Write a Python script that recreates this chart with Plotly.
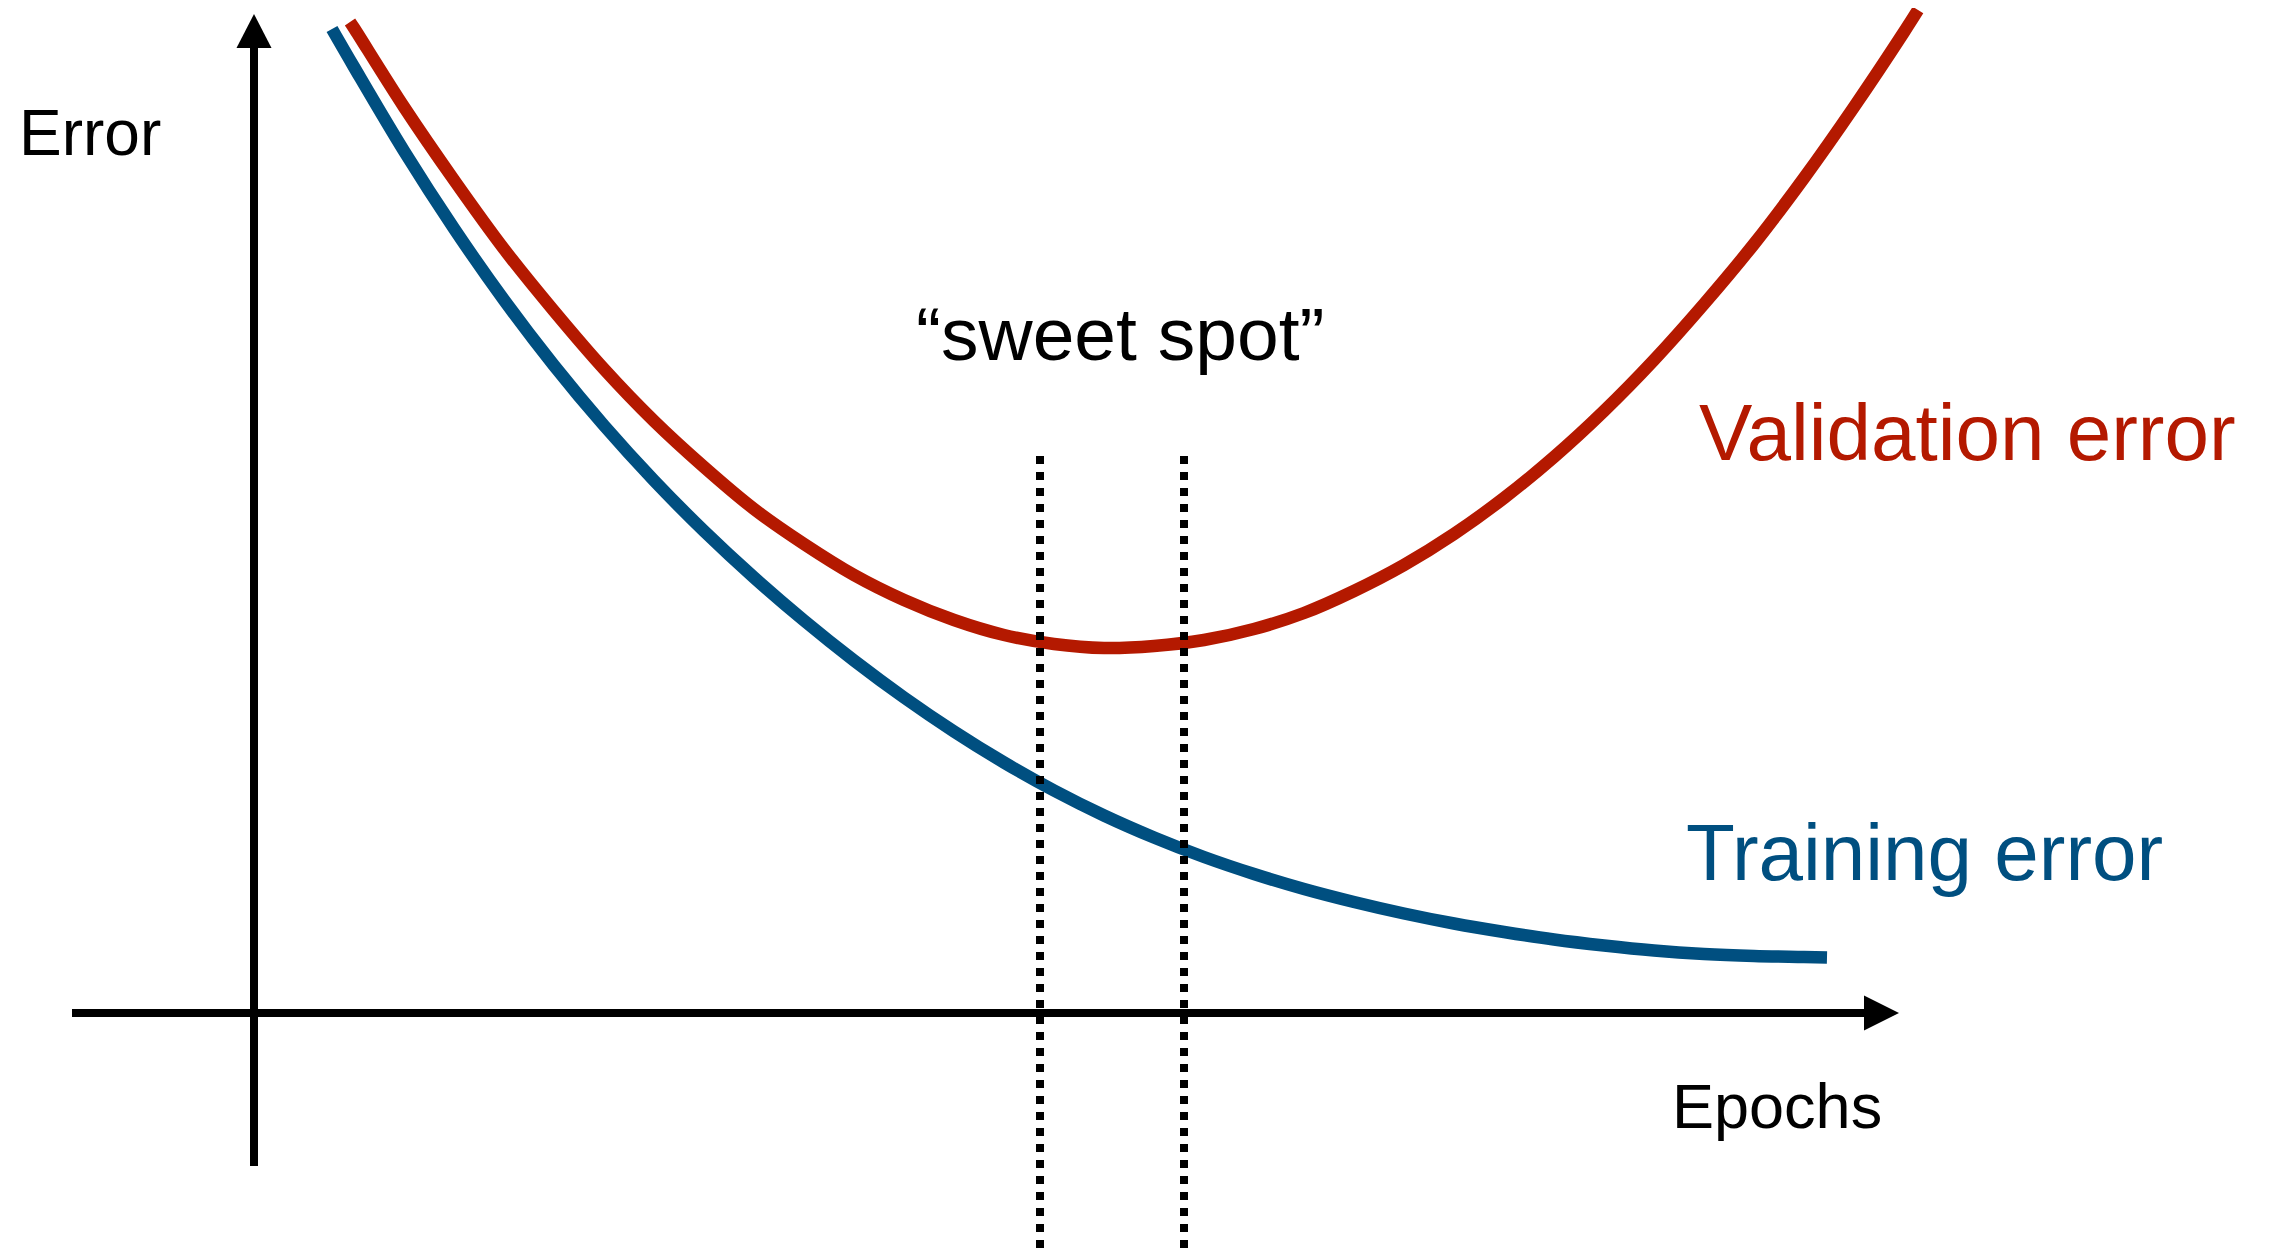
import plotly.graph_objects as go

# Curve samples. Units are arbitrary; (0, 0) is where the axes cross.
train_epochs = [0.78, 1.0, 1.5, 2.0, 2.5, 3.0, 3.5, 4.0, 4.5, 5.0, 5.5, 6.0, 6.5, 7.0, 7.5, 8.0,
                8.5, 9.0, 9.5, 10.0, 10.5, 11.0, 11.5, 12.0, 12.5, 13.0, 13.5, 14.0, 14.5, 15.0,
                15.5, 15.73]
train_error = [9.84, 9.46, 8.62, 7.845, 7.13, 6.475, 5.875, 5.325, 4.82, 4.355, 3.925, 3.525,
               3.155, 2.815, 2.505, 2.225, 1.975, 1.755, 1.56, 1.39, 1.24, 1.11, 0.995, 0.895,
               0.81, 0.735, 0.675, 0.625, 0.59, 0.57, 0.56, 0.555]

val_epochs = [0.96, 1.0, 1.5, 2.0, 2.5, 3.0, 3.5, 4.0, 4.5, 5.0, 5.5, 6.0, 6.5, 7.0, 7.5, 8.0,
              8.5, 9.0, 9.5, 10.0, 10.5, 11.0, 11.5, 12.0, 12.5, 13.0, 13.5, 14.0, 14.5, 15.0,
              15.5, 16.0, 16.5, 16.64]
val_error = [9.91, 9.85, 9.06, 8.33, 7.64, 7.02, 6.44, 5.92, 5.46, 5.04, 4.69, 4.38, 4.13, 3.93,
             3.78, 3.69, 3.65, 3.67, 3.73, 3.84, 4.00, 4.22, 4.48, 4.79, 5.15, 5.56, 6.02, 6.53,
             7.09, 7.69, 8.35, 9.06, 9.81, 10.03]

sweet_spot = [7.86, 9.30]

RED = "#B41900"
BLUE = "#004F80"
FONT = "Liberation Sans, Arial, Helvetica, sans-serif"

# the page body keeps an 8px margin, so the ranges are nudged to compensate
X_RANGE = [-2.46, 20.25]
Y_RANGE = [-2.43, 10.05]

fig = go.Figure()
fig.add_trace(go.Scatter(x=train_epochs, y=train_error, mode="lines",
                         line=dict(color=BLUE, width=12.5, shape="spline", smoothing=1),
                         hoverinfo="skip"))
fig.add_trace(go.Scatter(x=val_epochs, y=val_error, mode="lines",
                         line=dict(color=RED, width=12.5, shape="spline", smoothing=1),
                         hoverinfo="skip"))

shapes = []
# axes with filled arrow heads
shapes.append(dict(type="line", x0=-1.82, y0=0, x1=16.12, y1=0, line=dict(color="black", width=8)))
shapes.append(dict(type="line", x0=0, y0=-1.53, x1=0, y1=9.67, line=dict(color="black", width=8)))
shapes.append(dict(type="path", path="M 16.10,0.175 L 16.45,0 L 16.10,-0.175 Z",
                   fillcolor="black", line=dict(color="black", width=0)))
shapes.append(dict(type="path", path="M -0.175,9.65 L 0,9.99 L 0.175,9.65 Z",
                   fillcolor="black", line=dict(color="black", width=0)))
# sweet spot bounds
for xs in sweet_spot:
    shapes.append(dict(type="line", x0=xs, y0=5.57, x1=xs, y1=Y_RANGE[0], layer="above",
                       line=dict(color="black", width=8, dash="dot")))

annotations = [
    dict(x=-2.37, y=8.80, text="Error", xanchor="left", yanchor="middle",
         font=dict(size=64, color="black")),
    dict(x=14.16, y=-0.93, text="Epochs", xanchor="left", yanchor="middle",
         font=dict(size=63, color="black")),
    dict(x=8.66, y=6.79, text="\u201csweet spot\u201d", xanchor="center", yanchor="middle",
         font=dict(size=75, color="black")),
    dict(x=14.43, y=5.81, text="Validation error", xanchor="left", yanchor="middle",
         font=dict(size=80, color=RED)),
    dict(x=14.30, y=1.61, text="Training error", xanchor="left", yanchor="middle",
         font=dict(size=80, color=BLUE)),
]
for a in annotations:
    a.update(showarrow=False, xref="x", yref="y")

fig.update_layout(
    width=2271,
    height=1248,
    margin=dict(l=0, r=0, t=0, b=0, pad=0),
    paper_bgcolor="white",
    plot_bgcolor="white",
    showlegend=False,
    font=dict(family=FONT),
    xaxis=dict(range=X_RANGE, visible=False, fixedrange=True),
    yaxis=dict(range=Y_RANGE, visible=False, fixedrange=True),
    shapes=shapes,
    annotations=annotations,
)

fig.write_html("out.html")
